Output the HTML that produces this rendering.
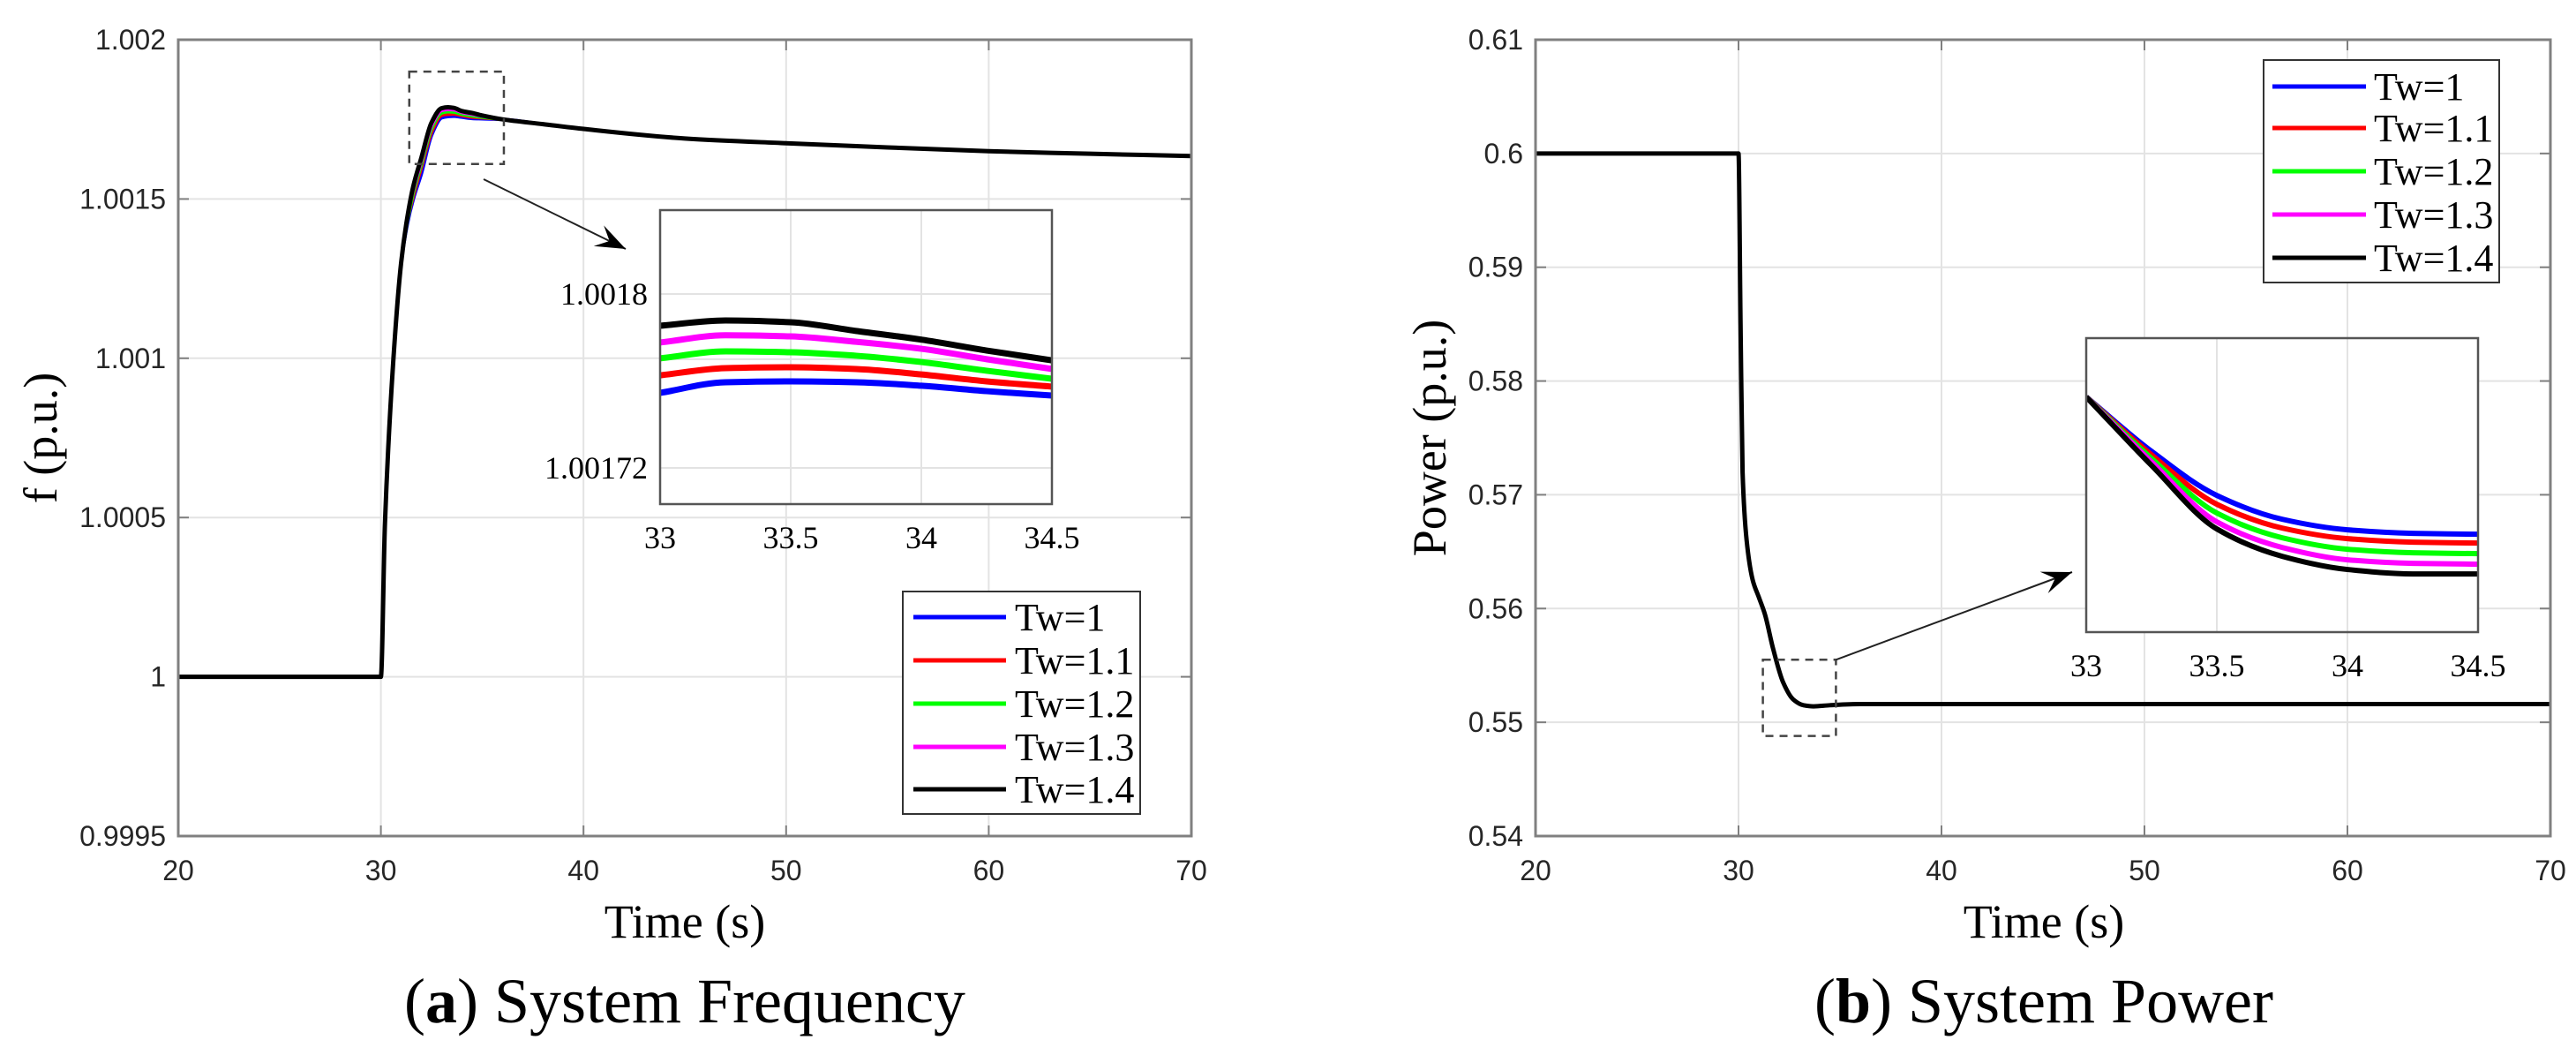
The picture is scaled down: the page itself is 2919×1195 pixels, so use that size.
<!DOCTYPE html>
<html><head><meta charset="utf-8"><style>
html,body{margin:0;padding:0;background:#fff;}
svg{display:block;}
.tk{font-family:"Liberation Sans",sans-serif;font-size:32px;fill:#262626;}
.st{font-family:"Liberation Serif",serif;fill:#000;}
</style></head><body>
<svg id="chart" width="2919" height="1195" viewBox="0 0 2919 1195" xmlns="http://www.w3.org/2000/svg">
<defs>
<clipPath id="clipLI"><rect x="748" y="238" width="444" height="333"/></clipPath>
<clipPath id="clipRI"><rect x="2364" y="383" width="444" height="333"/></clipPath>
<clipPath id="clipL"><rect x="202" y="45" width="1148" height="902"/></clipPath>
<clipPath id="clipR"><rect x="1740" y="45" width="1150" height="902"/></clipPath>
</defs>
<g id="root"></g>
</svg>
<script>
const seriesNames = ["Tw=1","Tw=1.1","Tw=1.2","Tw=1.3","Tw=1.4"];
const seriesColors = ["#0000ff","#ff0000","#00ff00","#ff00ff","#000000"];
const xTicks = [20,30,40,50,60,70];
const freqTicks = [0.9995,1,1.0005,1.001,1.0015,1.002];
const freqTickLabels = ["0.9995","1","1.0005","1.001","1.0015","1.002"];
const powerTicks = [0.54,0.55,0.56,0.57,0.58,0.59,0.6,0.61];
const powerTickLabels = ["0.54","0.55","0.56","0.57","0.58","0.59","0.6","0.61"];
const insetXTicks = [33,33.5,34,34.5];
const insetXTickLabels = ["33","33.5","34","34.5"];
const freqInsetTicks = [1.00172,1.00177,1.0018];
const freqInsetTickLabels = ["1.00172","","1.0018"];

const tFreq = [20,30,30.2,30.6,31,31.3,31.6,32,32.5,33,33.3,33.6,34,34.5,35,36,38,40,45,50,55,60,65,70];
const freqBlue =    [1,1,1.00048,1.00098,1.0013,1.00142,1.0015,1.00158,1.0017,1.001755,1.001759,1.00176,1.001757,1.001753,1.001752,1.00175,1.001735,1.00172,1.00169,1.001675,1.001662,1.00165,1.001642,1.001635];
const freqRed =     [1,1,1.00048,1.00098,1.0013,1.00143,1.00151,1.0016,1.00171,1.001763,1.001766,1.001767,1.001762,1.001757,1.001755,1.00175,1.001735,1.00172,1.00169,1.001675,1.001662,1.00165,1.001642,1.001635];
const freqGreen =   [1,1,1.00048,1.00098,1.0013,1.00143,1.00152,1.00161,1.00172,1.00177,1.001774,1.001773,1.001766,1.001761,1.001757,1.00175,1.001735,1.00172,1.00169,1.001675,1.001662,1.00165,1.001642,1.001635];
const freqMagenta = [1,1,1.00048,1.00098,1.0013,1.00144,1.00153,1.00162,1.00173,1.001778,1.001781,1.00178,1.001772,1.001766,1.00176,1.00175,1.001735,1.00172,1.00169,1.001675,1.001662,1.00165,1.001642,1.001635];
const freqBlack =   [1,1,1.00048,1.00098,1.0013,1.00144,1.00154,1.00163,1.00174,1.001785,1.001788,1.001786,1.001776,1.00177,1.001762,1.00175,1.001735,1.00172,1.00169,1.001675,1.001662,1.00165,1.001642,1.001635];

const tInset = [33,33.25,33.5,33.75,34,34.25,34.5];
const fiBlue =    [1.0017545,1.0017594,1.0017598,1.0017594,1.0017578,1.0017553,1.0017533];
const fiRed =     [1.0017626,1.0017659,1.0017663,1.0017655,1.001763,1.0017598,1.0017574];
const fiGreen =   [1.0017704,1.0017736,1.0017732,1.0017716,1.0017687,1.0017647,1.001761];
const fiMagenta = [1.0017777,1.001781,1.0017805,1.001778,1.0017748,1.00177,1.0017655];
const fiBlack =   [1.0017854,1.0017878,1.001787,1.001783,1.001779,1.001774,1.0017695];

const tPower = [20,30,30.1,30.2,30.4,30.7,31,31.3,31.7,32.2,32.7,33.2,33.7,34.5,36,40,50,60,70];
const powerMain = [0.6,0.6,0.585,0.572,0.566,0.5625,0.561,0.5595,0.5565,0.5535,0.552,0.5515,0.5514,0.5515,0.5516,0.5516,0.5516,0.5516,0.5516];

const piBlue =    [0.552,0.551815,0.551665,0.551584,0.551548,0.551536,0.551533];
const piRed =     [0.552,0.551803,0.551635,0.551554,0.551518,0.551506,0.551503];
const piGreen =   [0.552,0.551791,0.551605,0.551521,0.551482,0.55147,0.551467];
const piMagenta = [0.552,0.551779,0.551575,0.551488,0.551446,0.551434,0.551431];
const piBlack =   [0.552,0.551767,0.551551,0.551458,0.551413,0.551398,0.551398];

const NS="http://www.w3.org/2000/svg";
const root=document.getElementById('root');
function mk(tag,attrs,parent){const e=document.createElementNS(NS,tag);for(const k in attrs)e.setAttribute(k,attrs[k]);(parent||root).appendChild(e);return e;}
function lin(d0,d1,r0,r1){return v=>r0+(v-d0)/(d1-d0)*(r1-r0);}
function smoothPath(xs,ys){
  const n=xs.length, dx=[], m=[], t=new Array(n).fill(0);
  for(let i=0;i<n-1;i++){dx[i]=xs[i+1]-xs[i];m[i]=dx[i]===0?0:(ys[i+1]-ys[i])/dx[i];}
  t[0]=m[0];t[n-1]=m[n-2];
  for(let i=1;i<n-1;i++){
    if(m[i-1]*m[i]<=0)t[i]=0;
    else{const w1=2*dx[i]+dx[i-1],w2=dx[i]+2*dx[i-1];t[i]=(w1+w2)/(w1/m[i-1]+w2/m[i]);}
  }
  let d="M"+xs[0].toFixed(2)+","+ys[0].toFixed(2);
  for(let i=0;i<n-1;i++){
    const h=dx[i]/3;
    d+=" C"+(xs[i]+h).toFixed(2)+","+(ys[i]+t[i]*h).toFixed(2)+" "+(xs[i+1]-h).toFixed(2)+","+(ys[i+1]-t[i+1]*h).toFixed(2)+" "+xs[i+1].toFixed(2)+","+ys[i+1].toFixed(2);
  }
  return d;
}

function drawAxes(g,x0,x1,y0,y1,xs,ys,xt,yt,ytl){
  mk('rect',{x:x0,y:y0,width:x1-x0,height:y1-y0,fill:'#fff'},g);
  xt.forEach(v=>{const X=xs(v);
    const l=mk('line',{x1:X,y1:y0,x2:X,y2:y1,stroke:'#e3e3e3','stroke-width':2},g);
    
    
    mk('line',{x1:X,y1:y1,x2:X,y2:y1-12,stroke:'#808080','stroke-width':2},g);
    mk('line',{x1:X,y1:y0,x2:X,y2:y0+12,stroke:'#808080','stroke-width':2},g);
    const t=mk('text',{x:X,y:y1+50,'text-anchor':'middle',class:'tk'},g);t.textContent=String(v);
    
    
  });
  yt.forEach((v,i)=>{const Y=ys(v);
    const l=mk('line',{x1:x0,y1:Y,x2:x1,y2:Y,stroke:'#e3e3e3','stroke-width':2},g);
    
    
    mk('line',{x1:x0,y1:Y,x2:x0+12,y2:Y,stroke:'#808080','stroke-width':2},g);
    mk('line',{x1:x1,y1:Y,x2:x1-12,y2:Y,stroke:'#808080','stroke-width':2},g);
    const t=mk('text',{x:x0-14,y:Y+11,'text-anchor':'end',class:'tk'},g);t.textContent=ytl[i];
    
    
  });
}
function drawBox(g,x0,x1,y0,y1,c,w){mk('rect',{x:x0,y:y0,width:x1-x0,height:y1-y0,fill:'none',stroke:c,'stroke-width':w},g);}
function drawLegend(g,lx,ly,lw,lh,entryY,lineX0,lineX1,textX){
  const r=mk('rect',{x:lx,y:ly,width:lw,height:lh,fill:'#fff',stroke:'#333','stroke-width':2},g);
  
  
  seriesNames.forEach((n,i)=>{
    const y=entryY[i];
    const e=mk('g',{},g);
    
    
    mk('line',{x1:lineX0,y1:y,x2:lineX1,y2:y,stroke:seriesColors[i],'stroke-width':5},e);
    const t=mk('text',{x:textX,y:y+15,class:'st','font-size':44},e);t.textContent=n;
  });
}
function arrow(g,x0,y0,x1,y1){
  mk('line',{x1:x0,y1:y0,x2:x1,y2:y1,stroke:'#222','stroke-width':2},g);
  const a=Math.atan2(y1-y0,x1-x0),L=34,W=13;
  const bx=x1-L*Math.cos(a),by=y1-L*Math.sin(a);
  const nx=-Math.sin(a),ny=Math.cos(a);
  mk('path',{d:`M${x1},${y1} L${bx+nx*W},${by+ny*W} L${x1-L*0.6*Math.cos(a)},${y1-L*0.6*Math.sin(a)} L${bx-nx*W},${by-ny*W} Z`,fill:'#000'},g);
}

/* ---------- LEFT: frequency ---------- */
const gL=mk('g',{});


const LX0=202,LX1=1350,TY=45,BY=947;
const xsL=lin(20,70,LX0,LX1), ysL=lin(0.9995,1.002,BY,TY);
drawAxes(gL,LX0,LX1,TY,BY,xsL,ysL,xTicks,freqTicks,freqTickLabels);
const freqSeries=[freqBlue,freqRed,freqGreen,freqMagenta,freqBlack];
const gLS=mk('g',{'clip-path':'url(#clipL)'},gL);
freqSeries.forEach((s,i)=>{
  const p=mk('path',{d:smoothPath(tFreq.map(xsL),s.map(ysL)),fill:'none',stroke:seriesColors[i],'stroke-width':i===4?5:4,'stroke-linejoin':'round'},gLS);
  
  
});
drawBox(gL,LX0,LX1,TY,BY,'#808080',3);
const zbL=mk('rect',{x:xsL(31.4),y:ysL(1.0019),width:xsL(36.07)-xsL(31.4),height:ysL(1.00161)-ysL(1.0019),fill:'none',stroke:'#444','stroke-width':2.5,'stroke-dasharray':'9,7'},gL);


arrow(gL,548,203,709,282);
const gLI=mk('g',{},gL);


const IX0=748,IX1=1192,IY0=238,IY1=571;
const xsLI=lin(33,34.5,IX0,IX1), ysLI=lin(1.0018,1.00172,333,530);
mk('rect',{x:IX0,y:IY0,width:IX1-IX0,height:IY1-IY0,fill:'#fff'},gLI);
insetXTicks.forEach((v,i)=>{const X=xsLI(v);
  mk('line',{x1:X,y1:IY0,x2:X,y2:IY1,stroke:'#e3e3e3','stroke-width':2},gLI);
  const t=mk('text',{x:X,y:IY1+50,'text-anchor':'middle',class:'st','font-size':36,fill:'#262626'},gLI);t.textContent=insetXTickLabels[i];
});
freqInsetTicks.forEach((v,i)=>{const Y=ysLI(v);
  mk('line',{x1:IX0,y1:Y,x2:IX1,y2:Y,stroke:'#e3e3e3','stroke-width':2},gLI);
  if(freqInsetTickLabels[i]){const t=mk('text',{x:IX0-14,y:Y+12,'text-anchor':'end',class:'st','font-size':36,fill:'#262626'},gLI);t.textContent=freqInsetTickLabels[i];}
});
const fiSeries=[fiBlue,fiRed,fiGreen,fiMagenta,fiBlack];
const gLIS=mk('g',{'clip-path':'url(#clipLI)'},gLI);
fiSeries.forEach((s,i)=>{
  const p=mk('path',{d:smoothPath(tInset.map(xsLI),s.map(ysLI)),fill:'none',stroke:seriesColors[i],'stroke-width':7},gLIS);
  
  
});
drawBox(gLI,IX0,IX1,IY0,IY1,'#555',2.5);
drawLegend(gL,1023,670,269,252,[699,748,797,846,894],1035,1140,1150);
const xtL=mk('text',{x:776,y:1062,'text-anchor':'middle',class:'st','font-size':54},gL);xtL.textContent='Time (s)';


const ytL=mk('text',{x:0,y:0,'text-anchor':'middle',class:'st','font-size':54,transform:'translate(64,496) rotate(-90)'},gL);ytL.textContent='f (p.u.)';


const capL=mk('text',{x:776,y:1158,'text-anchor':'middle',class:'st','font-size':72},gL);
capL.innerHTML='(<tspan font-weight="bold">a</tspan>) System Frequency';



/* ---------- RIGHT: power ---------- */
const gR=mk('g',{});


const RX0=1740,RX1=2890;
const xsR=lin(20,70,RX0,RX1), ysR=lin(0.54,0.61,BY,TY);
drawAxes(gR,RX0,RX1,TY,BY,xsR,ysR,xTicks,powerTicks,powerTickLabels);
const gRS=mk('g',{'clip-path':'url(#clipR)'},gR);
seriesColors.forEach((c,i)=>{
  const p=mk('path',{d:smoothPath(tPower.map(xsR),powerMain.map(ysR)),fill:'none',stroke:c,'stroke-width':i===4?5:4},gRS);
  
  
});
drawBox(gR,RX0,RX1,TY,BY,'#808080',3);
const zbR=mk('rect',{x:xsR(31.2),y:ysR(0.5555),width:xsR(34.8)-xsR(31.2),height:ysR(0.5488)-ysR(0.5555),fill:'none',stroke:'#444','stroke-width':2.5,'stroke-dasharray':'9,7'},gR);


arrow(gR,xsR(34.8),ysR(0.5555),2348,648);
const gRI=mk('g',{},gR);


const JX0=2364,JX1=2808,JY0=383,JY1=716;
const xsRI=lin(33,34.5,JX0,JX1), ysRI=lin(0.5522,0.5512,JY0,JY1);
mk('rect',{x:JX0,y:JY0,width:JX1-JX0,height:JY1-JY0,fill:'#fff'},gRI);
insetXTicks.forEach((v,i)=>{const X=xsRI(v);
  mk('line',{x1:X,y1:JY0,x2:X,y2:JY1,stroke:'#e3e3e3','stroke-width':2},gRI);
  const t=mk('text',{x:X,y:JY1+50,'text-anchor':'middle',class:'st','font-size':36,fill:'#262626'},gRI);t.textContent=insetXTickLabels[i];
});
const piSeries=[piBlue,piRed,piGreen,piMagenta,piBlack];
const gRIS=mk('g',{'clip-path':'url(#clipRI)'},gRI);
piSeries.forEach((s,i)=>{
  const p=mk('path',{d:smoothPath(tInset.map(xsRI),s.map(ysRI)),fill:'none',stroke:seriesColors[i],'stroke-width':6},gRIS);
  
  
});
drawBox(gRI,JX0,JX1,JY0,JY1,'#555',2.5);
drawLegend(gR,2565,68,267,252,[98,145,194,243,292],2575,2681,2690);
const xtR=mk('text',{x:2316,y:1062,'text-anchor':'middle',class:'st','font-size':54},gR);xtR.textContent='Time (s)';


const ytR=mk('text',{x:0,y:0,'text-anchor':'middle',class:'st','font-size':54,transform:'translate(1638,496) rotate(-90)'},gR);ytR.textContent='Power (p.u.)';


const capR=mk('text',{x:2316,y:1158,'text-anchor':'middle',class:'st','font-size':72},gR);
capR.innerHTML='(<tspan font-weight="bold">b</tspan>) System Power';


</script>
</body></html>
